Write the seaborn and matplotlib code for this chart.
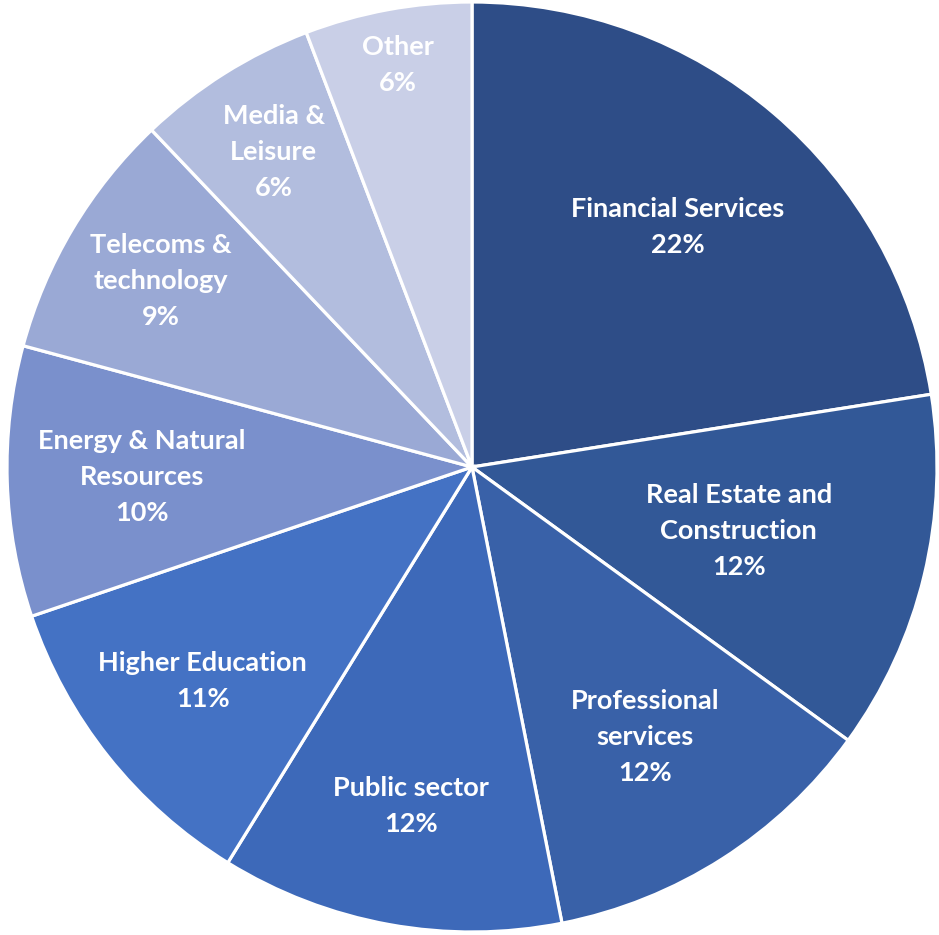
import matplotlib.pyplot as plt
import seaborn as sns
import numpy as np

sectors = ['Financial Services', 'Real Estate and\nConstruction', 'Professional\nservices',
           'Public sector', 'Higher Education', 'Energy & Natural\nResources',
           'Telecoms &\ntechnology', 'Media &\nLeisure', 'Other']
shares = [22.5, 12.5, 11.9, 11.9, 11.0, 9.4, 8.7, 6.3, 5.8]
shown = ['22%', '12%', '12%', '12%', '11%', '10%', '9%', '6%', '6%']

colors = ['#2E4D87', '#325897', '#3961A8', '#3D69B9', '#4472C4',
          '#7A90CC', '#9AA9D5', '#B2BDDE', '#C9CFE7']
# radial position of each label, as a fraction of the radius
label_r = [0.68, 0.59, 0.69, 0.74, 0.74, 0.71, 0.78, 0.80, 0.88]

sns.set_style('white')
plt.rcParams['font.family'] = ['Lato', 'DejaVu Sans']

fig = plt.figure(figsize=(9.39, 9.35), dpi=100)
ax = fig.add_axes([0, 0, 1, 1])
R = 465
wedges, _ = ax.pie(shares, colors=colors, startangle=90, counterclock=False,
                   radius=1, wedgeprops=dict(edgecolor='white', linewidth=2.3))

for w, name, pct, r in zip(wedges, sectors, shown, label_r):
    mid = np.deg2rad((w.theta1 + w.theta2) / 2)
    ax.text(r * np.cos(mid), r * np.sin(mid), f'{name}\n{pct}', ha='center', va='center',
            color='white', fontsize=19.5, fontweight='bold', linespacing=1.6)

ax.set_xlim(-472 / R, (939 - 472) / R)
ax.set_ylim(-468 / R, 467 / R)
ax.set_aspect('equal')
ax.axis('off')
fig.savefig('out.png', dpi=100)
